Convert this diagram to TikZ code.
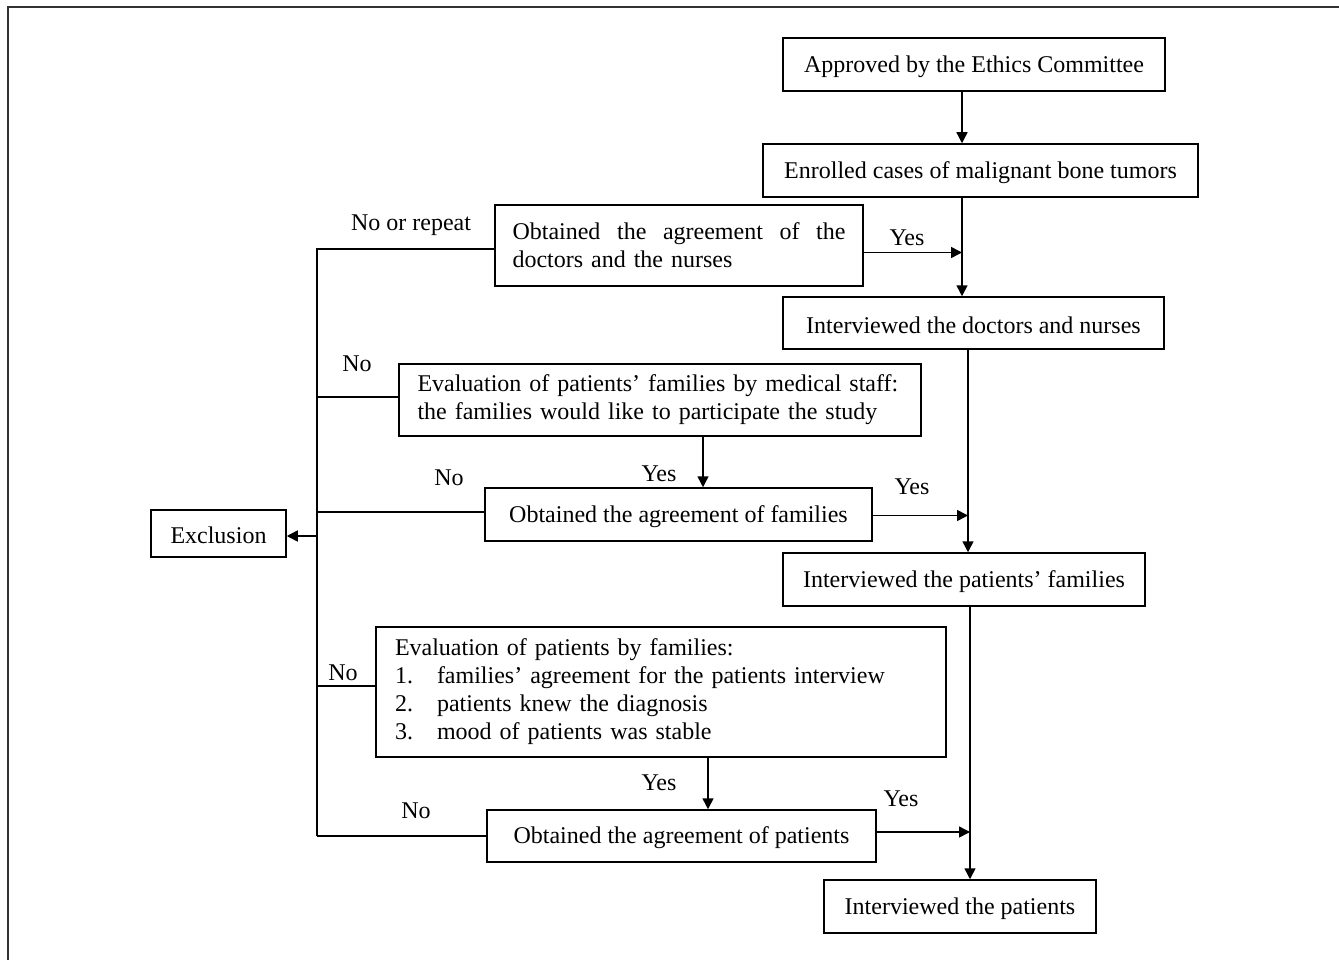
\documentclass[tikz,border=0pt]{standalone}
\usepackage{fontspec}
\setmainfont{Liberation Serif}
\usetikzlibrary{arrows.meta}
\newcommand{\lowr}[1]{\raisebox{-2pt}[\height][\depth]{#1}}
\begin{document}
\begin{tikzpicture}[x=1pt,y=-1pt,
 box/.style={draw, line width=1.5pt, inner sep=0pt, font=\fontsize{24}{28}\selectfont},
 lbl/.style={inner sep=0pt, font=\fontsize{24}{28}\selectfont},
 conn/.style={line width=1.5pt},
 arr/.style={line width=1.5pt, -{Triangle[length=11pt,width=11pt]}},
]
\useasboundingbox (0,0) rectangle (1339,960);
\draw[line width=1.5pt, color=black!80] (8,960) -- (8,7) -- (1339,7);

\node[box, minimum width=382pt, minimum height=53pt] (A) at (974,64.5) {\lowr{Approved by the Ethics Committee}};
\node[box, minimum width=435pt, minimum height=53pt] (B) at (980.5,170.5) {\lowr{Enrolled cases of malignant bone tumors}};
\node[box, minimum width=368pt, minimum height=81pt, text width=333pt, align=left] (C) at (679,245.5)
  {\hbox to 333pt{Obtained\hfill the\hfill agreement\hfill of\hfill the}\\doctors and the nurses};
\node[box, minimum width=381pt, minimum height=52pt] (D) at (973.5,323) {\lowr{Interviewed the doctors and nurses}};
\node[box, minimum width=522pt, minimum height=72pt, text width=485pt, align=left] (E) at (660,400)
  {Evaluation of patients’ families by medical staff:\\the families would like to participate the study};
\node[box, minimum width=387pt, minimum height=53pt] (F) at (678.5,514.5) {\lowr{Obtained the agreement of families}};
\node[box, minimum width=362pt, minimum height=53pt] (G) at (964,579.5) {\lowr{Interviewed the patients’ families}};
\node[box, minimum width=570pt, minimum height=130pt, text width=532pt, align=left] (H) at (661,692)
  {Evaluation of patients by families:\\
   \makebox[42pt][l]{1.}families’ agreement for the patients interview\\
   \makebox[42pt][l]{2.}patients knew the diagnosis\\
   \makebox[42pt][l]{3.}mood of patients was stable};
\node[box, minimum width=389pt, minimum height=52pt] (I) at (681.5,836) {\lowr{Obtained the agreement of patients}};
\node[box, minimum width=272pt, minimum height=53pt] (J) at (960,906.5) {\lowr{Interviewed the patients}};
\node[box, minimum width=135pt, minimum height=47pt] (X) at (218.5,533.5) {\lowr{Exclusion}};

\coordinate (v1) at (962,0);
\coordinate (v2) at (968,0);
\coordinate (v3) at (970,0);
\coordinate (v4) at (703,0);
\coordinate (v5) at (708,0);
\coordinate (bx) at (317,0);

% main column
\draw[arr] (A.south -| v1) -- (B.north -| v1);
\draw[arr] (B.south -| v1) -- (D.north -| v1);
\draw[arr] (D.south -| v2) -- (G.north -| v2);
\draw[arr] (G.south -| v3) -- (J.north -| v3);
% yes branches
\draw[arr] ([yshift=-7pt]C.east) -- ([yshift=-7pt]C.east -| v1);
\draw[arr] ([yshift=-1pt]F.east) -- ([yshift=-1pt]F.east -| v2);
\draw[arr] ([yshift=4pt]I.east) -- ([yshift=4pt]I.east -| v3);
\draw[arr] (E.south -| v4) -- (F.north -| v4);
\draw[arr] (H.south -| v5) -- (I.north -| v5);
% no branches
\draw[conn] ([yshift=-3.5pt]C.west) -| (I.west -| bx);
\draw[conn] ([yshift=3pt]E.west) -- ([yshift=3pt]E.west -| bx);
\draw[conn] ([yshift=2.5pt]F.west) -- ([yshift=2.5pt]F.west -| bx);
\draw[conn] ([yshift=6pt]H.west) -- ([yshift=6pt]H.west -| bx);
\draw[conn] (I.west) -- (I.west -| bx);
\draw[arr] ([yshift=-2.5pt]X.east -| bx) -- ([yshift=-2.5pt]X.east);

% labels
\node[lbl] (l1) at (411,225) {No or repeat};
\node[lbl] (l2) at (907,238) {Yes};
\node[lbl] (l3) at (357,364) {No};
\node[lbl] (l4) at (659,474) {Yes};
\node[lbl] (l5) at (449,478) {No};
\node[lbl] (l6) at (912,487) {Yes};
\node[lbl] (l7) at (343,673) {No};
\node[lbl] (l8) at (659,783) {Yes};
\node[lbl] (l9) at (416,811) {No};
\node[lbl] (l10) at (901,799) {Yes};
\end{tikzpicture}
\end{document}
